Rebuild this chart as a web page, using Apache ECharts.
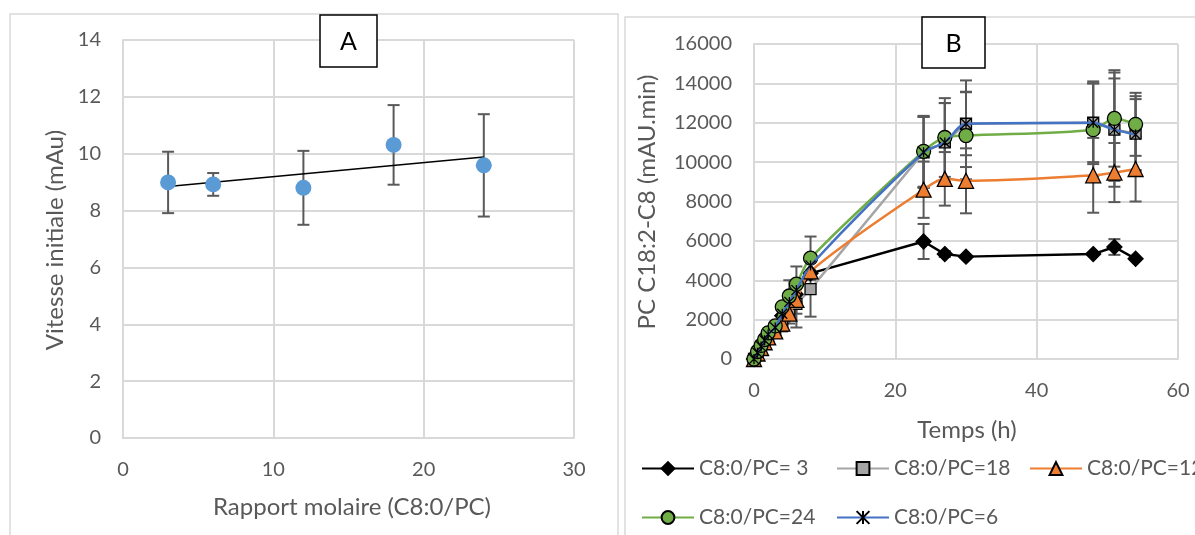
<!DOCTYPE html>
<html><head><meta charset="utf-8">
<script src="https://cdn.jsdelivr.net/npm/echarts@6/dist/echarts.min.js"></script>
<style>html,body{margin:0;padding:0;background:#fff}#c{width:1195px;height:535px}</style>
</head><body><div id="c"></div>
<script>
// ---------- Chart A data ----------
const ratioA = [3, 6, 12, 18, 24];
const vitesseA = [8.99, 8.92, 8.80, 10.31, 9.59];
const vitesseErrA = [1.08, 0.40, 1.30, 1.40, 1.80];
const ticksAx = [0, 10, 20, 30];
const ticksAy = [0, 2, 4, 6, 8, 10, 12, 14];

// ---------- Chart B data ----------
const temps = [0, 0.5, 1, 1.5, 2, 3, 4, 5, 6, 8, 24, 27, 30, 48, 51, 54];
const pc3  = [0, 300, 600, 900, 1200, 1500, 2200, 2700, 3250, 4350, 5970, 5330, 5200, 5330, 5690, 5090];
const pc18 = [0, 250, 500, 800, 1050, 1400, 1700, 2300, 2800, 3550, 10500, 11000, 11950, 12000, 11650, 11450];
const pc12 = [0, 280, 560, 850, 1100, 1400, 1800, 2300, 3000, 4450, 8600, 9150, 9050, 9330, 9470, 9650];
const pc24 = [0, 380, 690, 990, 1330, 1680, 2650, 3200, 3800, 5120, 10550, 11250, 11350, 11650, 12220, 11920];
const pc6  = [0, 320, 640, 950, 1250, 1600, 2300, 2900, 3500, 4750, 10500, 11000, 11950, 12000, 11650, 11400];
const err3  = [null, null, null, null, null, null, null, null, null, null, 890, 150, null, null, 400, null];
const err18 = [null, null, null, null, null, null, 300, 500, 1200, 1400, 1800, 2000, 1600, 2000, 2900, 1900];
const err12 = [null, null, null, null, null, null, null, null, 700, null, 1430, 1360, 1650, 1900, 1500, 1650];
const err24 = [null, null, null, null, null, null, null, 800, 900, 1100, 1800, 2000, 2225, 2350, 2450, 1600];
const err6  = [null, null, null, null, null, null, null, null, null, null, 1800, 2000, 2200, 2100, 2600, 1800];
const names = ['C8:0/PC= 3', 'C8:0/PC=18', 'C8:0/PC=12', 'C8:0/PC=24', 'C8:0/PC=6'];

const FONT = 'Lato';
const TXT = '#595959';
const GRID = '#d9d9d9';
const ERRC = '#595959';

// least-squares trendline for chart A
function linFit(xs, ys) {
  const n = xs.length;
  const mx = xs.reduce((a, b) => a + b, 0) / n;
  const my = ys.reduce((a, b) => a + b, 0) / n;
  let sxy = 0, sxx = 0;
  for (let i = 0; i < n; i++) { sxy += (xs[i] - mx) * (ys[i] - my); sxx += (xs[i] - mx) ** 2; }
  const b = sxy / sxx, a = my - b * mx;
  const x0 = Math.min(...xs), x1 = Math.max(...xs);
  return [[x0, a + b * x0], [x1, a + b * x1]];
}

function errData(xs, ys, es) {
  const out = [];
  for (let i = 0; i < xs.length; i++) {
    if (es[i] != null) out.push([xs[i], ys[i] - es[i], ys[i] + es[i]]);
  }
  return out;
}
function errRender(capHalf, width) {
  return function (params, api) {
    const x = api.value(0), lo = api.value(1), hi = api.value(2);
    const a = api.coord([x, lo]), b = api.coord([x, hi]);
    const style = { stroke: ERRC, lineWidth: width };
    return {
      type: 'group', children: [
        { type: 'line', shape: { x1: a[0], y1: a[1], x2: b[0], y2: b[1] }, style },
        { type: 'line', shape: { x1: a[0] - capHalf, y1: a[1], x2: a[0] + capHalf, y2: a[1] }, style },
        { type: 'line', shape: { x1: b[0] - capHalf, y1: b[1], x2: b[0] + capHalf, y2: b[1] }, style }
      ]
    };
  };
}
const zip = (xs, ys) => xs.map((x, i) => [x, ys[i]]);

const axisLabel = { color: TXT, fontFamily: FONT, fontSize: 20, formatter: v => String(v) };
const splitLine = { show: true, lineStyle: { color: GRID, width: 2 } };
const axisLine = { show: true, lineStyle: { color: GRID, width: 2 } };

const bSeriesDefs = [
  { name: names[0], data: pc3, err: err3, color: '#000000', symbol: 'diamond', size: 15, fill: '#000000', smooth: false },
  { name: names[1], data: pc18, err: err18, color: '#a5a5a5', symbol: 'rect', size: 11, fill: '#a5a5a5', smooth: false },
  { name: names[2], data: pc12, err: err12, color: '#ed7d31', symbol: 'triangle', size: 15, fill: '#ed7d31', smooth: 0.3 },
  { name: names[3], data: pc24, err: err24, color: '#70ad47', symbol: 'circle', size: 14, fill: '#70ad47', smooth: 0.3 },
  { name: names[4], data: pc6, err: err6, color: '#4472c4', symbol: 'path://M0,0L10,10M10,0L0,10M5,0L5,10', size: 10, fill: 'rgba(0,0,0,0)', smooth: 0.3 }
];

const series = [];
// Chart A
series.push({
  type: 'custom', xAxisIndex: 0, yAxisIndex: 0, z: 1, silent: true,
  renderItem: errRender(6, 2), data: errData(ratioA, vitesseA, vitesseErrA)
});
series.push({
  type: 'line', xAxisIndex: 0, yAxisIndex: 0, z: 2, data: linFit(ratioA, vitesseA),
  showSymbol: false, lineStyle: { color: '#000', width: 1.5 }, silent: true
});
series.push({
  type: 'scatter', xAxisIndex: 0, yAxisIndex: 0, z: 3, data: zip(ratioA, vitesseA),
  symbolSize: 16, itemStyle: { color: '#5b9bd5', opacity: 1 }
});
// Chart B error bars
bSeriesDefs.forEach(d => {
  series.push({
    type: 'custom', xAxisIndex: 1, yAxisIndex: 1, z: 1, silent: true,
    renderItem: errRender(6, 2), data: errData(temps, d.data, d.err)
  });
});
// Chart B lines
bSeriesDefs.forEach((d, i) => {
  series.push({
    name: d.name, type: 'line', xAxisIndex: 1, yAxisIndex: 1, z: 2 + i,
    data: zip(temps, d.data), smooth: d.smooth,
    symbol: d.symbol, symbolSize: d.size, showAllSymbol: true,
    lineStyle: { color: d.color, width: 2.5 },
    itemStyle: { color: d.fill, borderColor: '#000', borderWidth: 1.3 }
  });
});

const legendPos = [[641, 458], [836, 458], [1029, 458], [641, 507], [836, 507]];
const legends = names.map((n, i) => ({
  data: [n], left: legendPos[i][0], top: legendPos[i][1],
  itemWidth: 52, itemHeight: 16, itemGap: 6, padding: 0,
  textStyle: { color: TXT, fontFamily: FONT, fontSize: 21, padding: [0, 0, 0, 0] },
  selectedMode: false
}));

const chart = echarts.init(document.getElementById('c'), null, { renderer: 'canvas' });
chart.setOption({
  animation: false,
  backgroundColor: '#ffffff',
  grid: [
    { left: 123, top: 40, width: 451, height: 398 },
    { left: 754, top: 44, width: 424, height: 315 }
  ],
  xAxis: [
    { gridIndex: 0, type: 'value', min: ticksAx[0], max: ticksAx[ticksAx.length - 1], interval: 10,
      axisLine, axisTick: { show: false }, splitLine, axisLabel: { ...axisLabel, margin: 22 } },
    { gridIndex: 1, type: 'value', min: 0, max: 60, interval: 20,
      axisLine, axisTick: { show: false }, splitLine, axisLabel: { ...axisLabel, margin: 22 } }
  ],
  yAxis: [
    { gridIndex: 0, type: 'value', min: ticksAy[0], max: ticksAy[ticksAy.length - 1], interval: 2,
      axisLine, axisTick: { show: false }, splitLine, axisLabel: { ...axisLabel, margin: 22 } },
    { gridIndex: 1, type: 'value', min: 0, max: 16000, interval: 2000,
      axisLine, axisTick: { show: false }, splitLine, axisLabel: { ...axisLabel, margin: 22 } }
  ],
  legend: legends,
  series,
  graphic: [
    { type: 'rect', shape: { x: 10, y: 14, width: 608, height: 540 }, style: { fill: 'none', stroke: GRID, lineWidth: 1.5 }, z: -1 },
    { type: 'rect', shape: { x: 625, y: 17, width: 600, height: 540 }, style: { fill: 'none', stroke: GRID, lineWidth: 1.5 }, z: -1 },
    { type: 'rect', shape: { x: 320, y: 15, width: 57, height: 52 }, style: { fill: '#fff', stroke: '#000', lineWidth: 1.5 }, z: 10 },
    { type: 'text', x: 348.5, y: 42, style: { text: 'A', fontFamily: FONT, fontSize: 25, fill: '#000', textAlign: 'center', textVerticalAlign: 'middle' }, z: 11 },
    { type: 'rect', shape: { x: 922, y: 17, width: 63, height: 51 }, style: { fill: '#fff', stroke: '#000', lineWidth: 1.5 }, z: 10 },
    { type: 'text', x: 953.5, y: 44, style: { text: 'B', fontFamily: FONT, fontSize: 25, fill: '#000', textAlign: 'center', textVerticalAlign: 'middle' }, z: 11 },
    { type: 'text', x: 352, y: 507, style: { text: 'Rapport molaire (C8:0/PC)', fontFamily: FONT, fontSize: 24, fill: TXT, textAlign: 'center', textVerticalAlign: 'middle' } },
    { type: 'text', x: 55, y: 240, rotation: Math.PI / 2, style: { text: 'Vitesse initiale (mAu)', fontFamily: FONT, fontSize: 24, fill: TXT, textAlign: 'center', textVerticalAlign: 'middle' } },
    { type: 'text', x: 967, y: 430, style: { text: 'Temps (h)', fontFamily: FONT, fontSize: 24, fill: TXT, textAlign: 'center', textVerticalAlign: 'middle' } },
    { type: 'text', x: 647, y: 202, rotation: Math.PI / 2, style: { text: 'PC C18:2-C8 (mAU.min)', fontFamily: FONT, fontSize: 24, fill: TXT, textAlign: 'center', textVerticalAlign: 'middle' } }
  ]
});
</script></body></html>
